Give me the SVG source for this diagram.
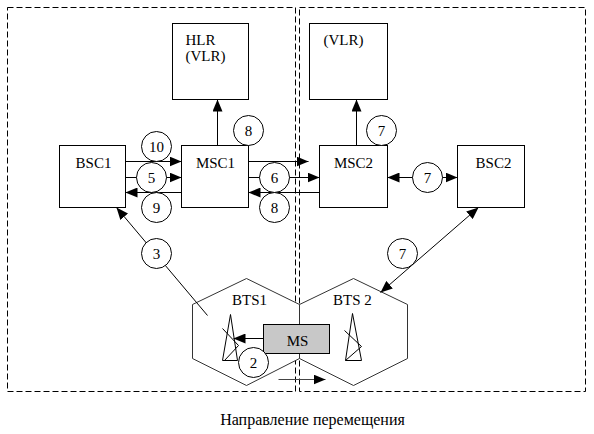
<svg xmlns="http://www.w3.org/2000/svg" width="594" height="434" viewBox="0 0 594 434" font-family="'Liberation Serif', 'Times New Roman', serif">
<style>
text{font-family:"Liberation Serif","Times New Roman",serif;font-size:15px;fill:#000}
.box{fill:#fff;stroke:#000;stroke-width:1}
.zone{fill:none;stroke:#000;stroke-width:1;stroke-dasharray:6,3}
.hex{fill:#fff;stroke:#333;stroke-width:1}
.arr{fill:none;stroke:#000;stroke-width:1;marker-end:url(#ah)}
.arr2{fill:none;stroke:#000;stroke-width:1;marker-start:url(#ah);marker-end:url(#ah)}
.num{fill:#fff;stroke:#000;stroke-width:1}
.nt{text-anchor:middle}
.tower{fill:none;stroke:#000;stroke-width:1}
</style>
<defs>
<marker id="ah" markerWidth="12" markerHeight="10" refX="12" refY="5" orient="auto-start-reverse" markerUnits="userSpaceOnUse">
<path d="M0,0 L12,5 L0,10 z" fill="#000"/>
</marker>
</defs>
<rect width="594" height="434" fill="#fff"/>
<g transform="translate(0.5,0.5)">
<g id="zones">
<rect class="zone" x="7" y="7" width="288" height="384"/>
<rect class="zone" x="299" y="7" width="286" height="384"/>
</g>
<g id="bts1">
<polygon class="hex" points="246,278 299,304 299,358 246,385 192,358 192,304"/>
<text x="249" y="304" class="nt" font-size="14.5">BTS1</text>
<path class="tower" d="M222,360 L230,314 L237,360 Z M222,328 L238,345 L224,360"/>
</g>
<g id="bts2">
<polygon class="hex" points="353,278 407,304 407,358 353,385 299,358 299,304"/>
<text x="352" y="304" class="nt" font-size="14.5">BTS 2</text>
<path class="tower" d="M345,360 L352,313 L361,360 Z M344,330 L361,346 L345,360"/>
</g>
<g id="hlr">
<rect class="box" x="172" y="23" width="76" height="76"/>
<text x="185" y="44">HLR</text>
<text x="185" y="60">(VLR)</text>
</g>
<g id="vlr">
<rect class="box" x="309" y="23" width="78" height="76"/>
<text x="323" y="44">(VLR)</text>
</g>
<g id="bsc1">
<rect class="box" x="59" y="145" width="66" height="62"/>
<text x="93" y="167" class="nt">BSC1</text>
</g>
<g id="msc1">
<rect class="box" x="181" y="145" width="67" height="62"/>
<text x="215" y="167" class="nt">MSC1</text>
</g>
<g id="msc2">
<rect class="box" x="319" y="145" width="68" height="62"/>
<text x="353" y="167" class="nt">MSC2</text>
</g>
<g id="bsc2">
<rect class="box" x="457" y="145" width="67" height="62"/>
<text x="493" y="167" class="nt">BSC2</text>
</g>
<g id="ms">
<rect x="263" y="324" width="66" height="29" fill="#c8c8c8" stroke="#000" stroke-width="1"/>
<text x="297" y="345" class="nt">MS</text>
</g>
<g id="connectors">
<line class="arr" x1="217" y1="145" x2="217" y2="99"/>
<line class="arr" x1="356" y1="145" x2="356" y2="99"/>
<line class="arr" x1="125" y1="161" x2="181" y2="161"/>
<line class="arr" x1="125" y1="177" x2="181" y2="177"/>
<line class="arr" x1="181" y1="192" x2="125" y2="192"/>
<line class="arr" x1="248" y1="161" x2="308" y2="161"/>
<line class="arr" x1="248" y1="177" x2="319" y2="177"/>
<line class="arr" x1="319" y1="192" x2="248" y2="192"/>
<line class="arr2" x1="387" y1="177" x2="457" y2="177"/>
<line class="arr2" x1="380" y1="292" x2="478" y2="207"/>
<line class="arr" x1="207" y1="315" x2="116" y2="207"/>
<line class="arr" x1="263" y1="338" x2="233" y2="338"/>
<line class="arr" x1="278" y1="379" x2="325" y2="379" style="stroke:#444"/>
</g>
<g id="labels">
<circle class="num" cx="248" cy="130" r="15"/><text x="248" y="135" class="nt">8</text>
<circle class="num" cx="381" cy="130" r="15"/><text x="381" y="135" class="nt">7</text>
<circle class="num" cx="156" cy="146" r="15"/><text x="156" y="151" class="nt">10</text>
<circle class="num" cx="151" cy="177" r="15"/><text x="151" y="182" class="nt">5</text>
<circle class="num" cx="156" cy="207" r="15"/><text x="156" y="212" class="nt">9</text>
<circle class="num" cx="274" cy="177" r="15"/><text x="274" y="182" class="nt">6</text>
<circle class="num" cx="274" cy="207" r="15"/><text x="274" y="212" class="nt">8</text>
<circle class="num" cx="427" cy="177" r="15"/><text x="427" y="182" class="nt">7</text>
<circle class="num" cx="402" cy="253" r="15"/><text x="402" y="258" class="nt">7</text>
<circle class="num" cx="156" cy="253" r="15"/><text x="156" y="258" class="nt">3</text>
<circle class="num" cx="253" cy="362" r="15"/><text x="253" y="367" class="nt">2</text>
</g>
<text x="312" y="424" class="nt" font-size="16" style="font-size:16px">Направление перемещения</text>
</g>
</svg>
